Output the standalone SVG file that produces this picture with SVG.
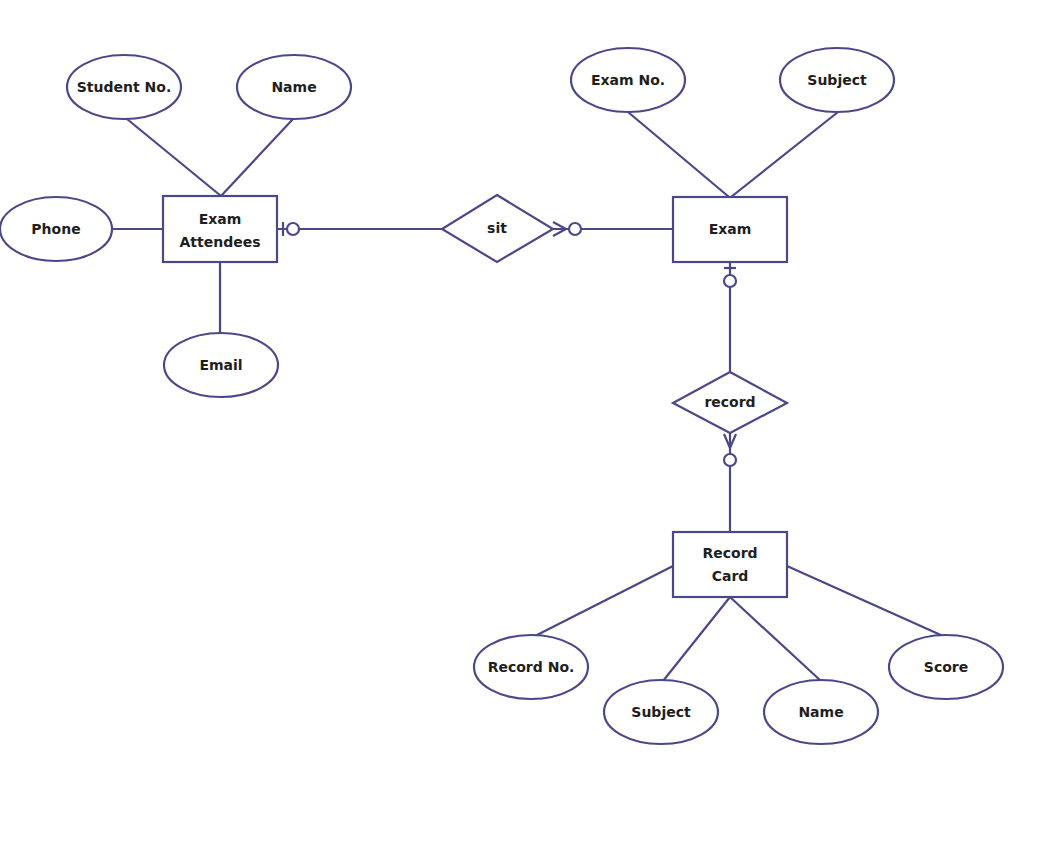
<svg xmlns="http://www.w3.org/2000/svg" width="1055" height="864" viewBox="0 0 1055 864">
<style>
.s{fill:#fff;stroke:#4a4888;stroke-width:2.2}
.l{fill:none;stroke:#4a4888;stroke-width:2.2}
.t{font-family:"DejaVu Sans",Verdana,sans-serif;font-weight:bold;font-size:14px;fill:#1e1e1e;text-anchor:middle;dominant-baseline:central}
</style>
<rect width="1055" height="864" fill="#fff"/>
<g id="connectors">
<line class="l" x1="127" y1="119" x2="221" y2="196"/>
<line class="l" x1="293" y1="119" x2="221" y2="196"/>
<line class="l" x1="112" y1="229" x2="163" y2="229"/>
<line class="l" x1="220" y1="262" x2="220" y2="333"/>
<line class="l" x1="277" y1="229" x2="442" y2="229"/>
<line class="l" x1="283" y1="222" x2="283" y2="236"/>
<circle class="s" cx="293" cy="229" r="6"/>
<line class="l" x1="553" y1="229" x2="673" y2="229"/>
<path class="l" d="M553,222 L566,229 L553,236"/>
<circle class="s" cx="575" cy="229" r="6"/>
<line class="l" x1="628" y1="112" x2="729" y2="197"/>
<line class="l" x1="838" y1="112" x2="731" y2="197"/>
<line class="l" x1="730" y1="262" x2="730" y2="372"/>
<line class="l" x1="724" y1="268" x2="736" y2="268"/>
<circle class="s" cx="730" cy="281" r="6"/>
<line class="l" x1="730" y1="433" x2="730" y2="532"/>
<path class="l" d="M724,434 L730,448 L736,434"/>
<circle class="s" cx="730" cy="460" r="6"/>
<line class="l" x1="673" y1="566" x2="535" y2="636"/>
<line class="l" x1="730" y1="597" x2="663" y2="681"/>
<line class="l" x1="730" y1="597" x2="821" y2="681"/>
<line class="l" x1="787" y1="566" x2="943" y2="636"/>
</g>
<g id="student-no"><ellipse class="s" cx="124" cy="87" rx="57" ry="32"/><text class="t" x="124" y="87">Student No.</text></g>
<g id="att-name"><ellipse class="s" cx="294" cy="87" rx="57" ry="32"/><text class="t" x="294" y="87">Name</text></g>
<g id="phone"><ellipse class="s" cx="56" cy="229" rx="56" ry="32"/><text class="t" x="56" y="229">Phone</text></g>
<g id="email"><ellipse class="s" cx="221" cy="365" rx="57" ry="32"/><text class="t" x="221" y="365">Email</text></g>
<g id="exam-attendees"><rect class="s" x="163" y="196" width="114" height="66"/><text class="t" x="220" y="219">Exam</text><text class="t" x="220" y="242">Attendees</text></g>
<g id="sit"><polygon class="s" points="497,195 553,229 497,262 442,229"/><text class="t" x="497" y="228">sit</text></g>
<g id="exam-no"><ellipse class="s" cx="628" cy="80" rx="57" ry="32"/><text class="t" x="628" y="80">Exam No.</text></g>
<g id="exam-subject"><ellipse class="s" cx="837" cy="80" rx="57" ry="32"/><text class="t" x="837" y="80">Subject</text></g>
<g id="exam"><rect class="s" x="673" y="197" width="114" height="65"/><text class="t" x="730" y="229">Exam</text></g>
<g id="record"><polygon class="s" points="730,372 787,403 730,433 673,403"/><text class="t" x="730" y="402">record</text></g>
<g id="record-card"><rect class="s" x="673" y="532" width="114" height="65"/><text class="t" x="730" y="553">Record</text><text class="t" x="730" y="576">Card</text></g>
<g id="record-no"><ellipse class="s" cx="531" cy="667" rx="57" ry="32"/><text class="t" x="531" y="667">Record No.</text></g>
<g id="rc-subject"><ellipse class="s" cx="661" cy="712" rx="57" ry="32"/><text class="t" x="661" y="712">Subject</text></g>
<g id="rc-name"><ellipse class="s" cx="821" cy="712" rx="57" ry="32"/><text class="t" x="821" y="712">Name</text></g>
<g id="score"><ellipse class="s" cx="946" cy="667" rx="57" ry="32"/><text class="t" x="946" y="667">Score</text></g>
</svg>
